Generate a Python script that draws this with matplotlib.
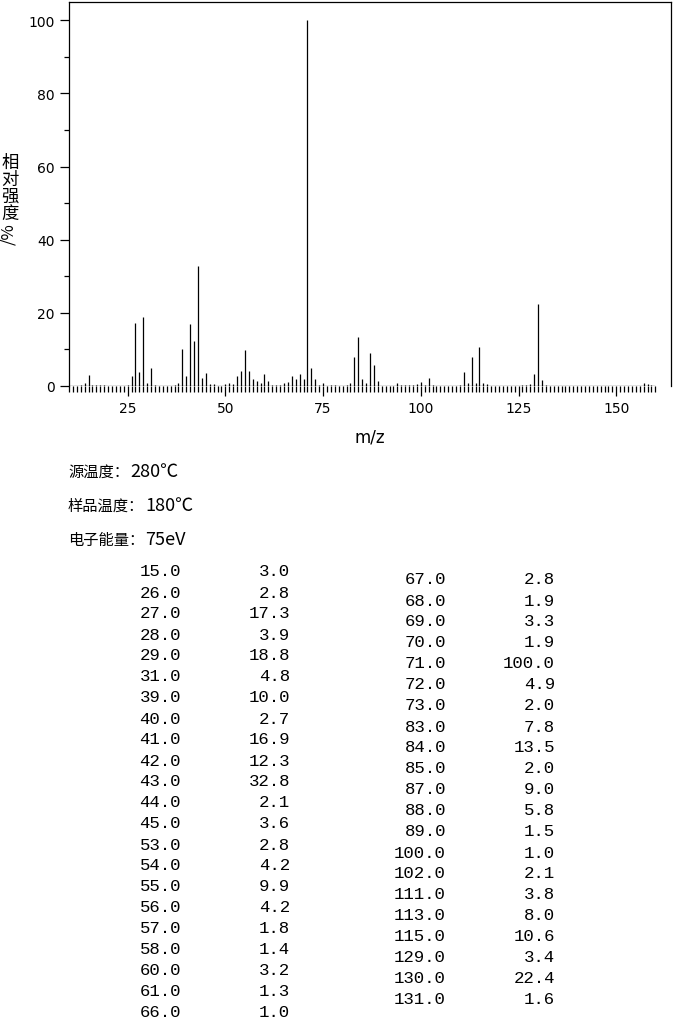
import matplotlib
import matplotlib.pyplot as plt
import numpy as np

matplotlib.use('Agg')

# peaks listed in the table (m/z, relative intensity %)
left_mz = [15, 26, 27, 28, 29, 31, 39, 40, 41, 42, 43, 44, 45, 53, 54, 55,
           56, 57, 58, 60, 61, 66]
left_int = [3.0, 2.8, 17.3, 3.9, 18.8, 4.8, 10.0, 2.7, 16.9, 12.3, 32.8, 2.1,
            3.6, 2.8, 4.2, 9.9, 4.2, 1.8, 1.4, 3.2, 1.3, 1.0]
right_mz = [67, 68, 69, 70, 71, 72, 73, 83, 84, 85, 87, 88, 89, 100, 102, 111,
            113, 115, 129, 130, 131]
right_int = [2.8, 1.9, 3.3, 1.9, 100.0, 4.9, 2.0, 7.8, 13.5, 2.0, 9.0, 5.8,
             1.5, 1.0, 2.1, 3.8, 8.0, 10.6, 3.4, 22.4, 1.6]

# weak peaks only visible in the spectrum
minor_mz = [13, 14, 16, 17, 18, 19, 25, 30, 32, 37, 38, 46, 47, 50, 51, 52,
            59, 62, 63, 64, 65, 74, 75, 77, 78, 81, 82, 86, 94, 95, 96, 97,
            98, 99, 101, 103, 110, 112, 114, 116, 117, 126, 127, 128, 132,
            157, 158, 159]
minor_int = [0.4, 0.8, 0.3, 0.3, 0.4, 0.3, 0.3, 0.7, 0.4, 0.4, 0.8, 0.5, 0.5,
             0.5, 0.8, 0.5, 0.8, 0.4, 0.4, 0.4, 0.8, 0.4, 0.8, 0.4, 0.4, 0.4,
             0.8, 0.8, 0.8, 0.4, 0.4, 0.4, 0.4, 0.5, 0.4, 0.4, 0.4, 0.8, 0.8,
             0.8, 0.5, 0.4, 0.4, 0.5, 0.4, 0.8, 0.5, 0.4]

cond_labels = ['源温度：', '样品温度：', '电子能量：']
cond_values = ['280℃', '180℃', '75eV']

W, H = 680, 1020
CJK = ['Noto Sans CJK SC', 'DejaVu Sans']
MONO = 'Liberation Mono'


def fx(px):
    return px / W


def fy(py):
    return 1 - py / H


fig = plt.figure(figsize=(W / 100, H / 100), dpi=100)
ax = fig.add_axes([fx(69), fy(387), fx(671) - fx(69), fy(3) - fy(387)])

mz = np.array(left_mz + right_mz + minor_mz)
inten = np.array(left_int + right_int + minor_int)
ax.vlines(mz, 0, inten, color='black', lw=0.9)
ax.hlines(0, 10, 160, color='black', lw=0.9)

ax.set_xlim(10, 164)
ax.set_ylim(0, 105)
ax.spines['bottom'].set_visible(False)
for s in ('left', 'top', 'right'):
    ax.spines[s].set_linewidth(0.9)

ax.set_xticks(range(25, 151, 25))
ax.set_xticks(range(10, 161), minor=True)
ax.set_yticks(range(0, 101, 20))
ax.set_yticks(range(10, 100, 20), minor=True)
ax.tick_params(which='major', axis='x', length=7.5, width=0.9, pad=3,
               labelsize=10)
ax.tick_params(which='minor', axis='x', length=4, width=0.9)
ax.tick_params(which='major', axis='y', length=6.5, width=0.9, pad=4,
               labelsize=10)
ax.tick_params(which='minor', axis='y', length=3.5, width=0.9)
ax.set_xlabel('m/z', fontsize=12, labelpad=9)

# vertical y label: upright CJK, rotated "/%"
fig.text(fx(10), fy(154), '相\n对\n强\n度', family=CJK, fontsize=12.5,
         weight='medium', ha='center', va='top', linespacing=0.93)
fig.text(fx(9), fy(234), '/%', family=CJK, fontsize=12, rotation=90,
         ha='center', va='center')

for i, (lab, val) in enumerate(zip(cond_labels, cond_values)):
    y = fy(472 + 34 * i)
    fig.text(fx(68), y, lab, family=CJK, fontsize=11, ha='left', va='center')
    fig.text(fx(69 + 15.3 * len(lab)), y, val, family=CJK, fontsize=13,
             ha='left', va='center')

for i, (m, v) in enumerate(zip(left_mz, left_int)):
    y = fy(572 + 21 * i)
    fig.text(fx(181), y, f'{m:.1f}', family=MONO, fontsize=12.5,
             ha='right', va='center')
    fig.text(fx(290), y, f'{v:.1f}', family=MONO, fontsize=12.5,
             ha='right', va='center')

for i, (m, v) in enumerate(zip(right_mz, right_int)):
    y = fy(580 + 21 * i)
    fig.text(fx(446), y, f'{m:.1f}', family=MONO, fontsize=12.5,
             ha='right', va='center')
    fig.text(fx(555), y, f'{v:.1f}', family=MONO, fontsize=12.5,
             ha='right', va='center')

fig.savefig('out.png', dpi=100)
plt.close(fig)
